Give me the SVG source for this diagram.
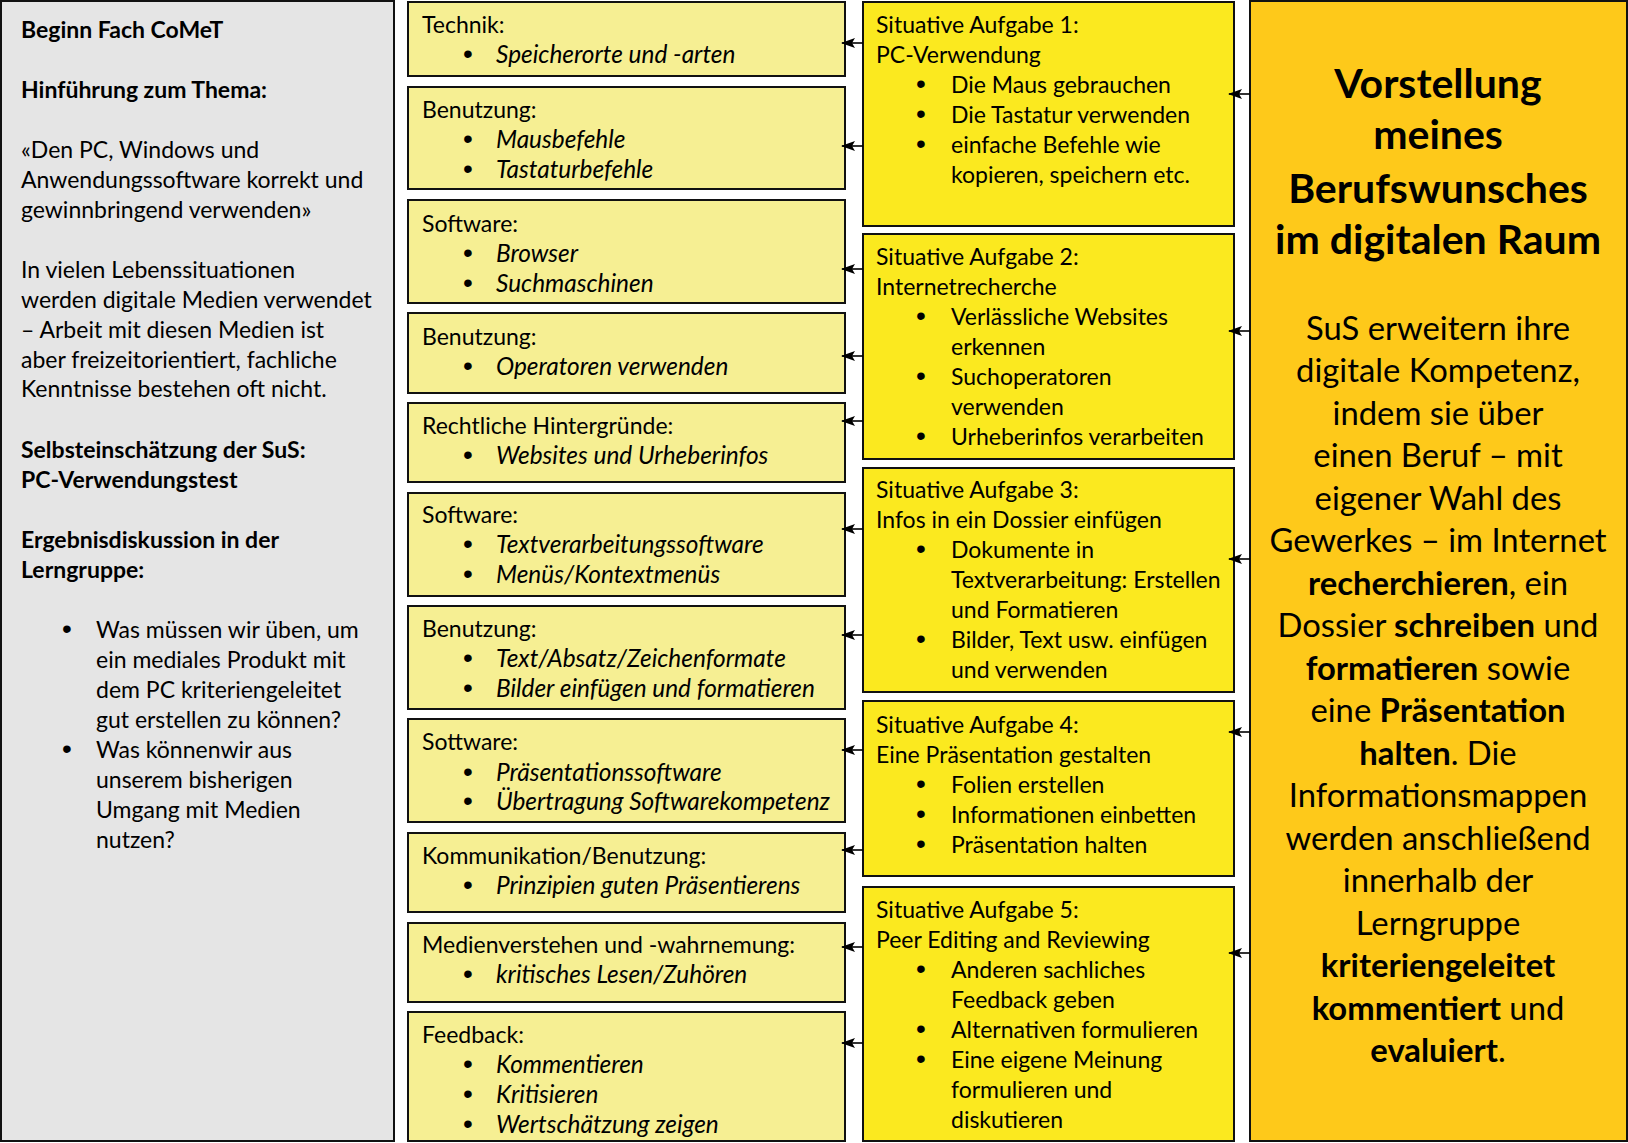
<svg xmlns="http://www.w3.org/2000/svg" width="1628" height="1143" viewBox="0 0 1628 1143">
<defs>
<style>
.t{font-family:Lato,"Liberation Sans",sans-serif;font-size:23px;fill:#000}
.b{font-weight:bold}
.i{font-style:italic;font-size:24.4px}
.bu{font-family:"Liberation Sans",sans-serif;font-size:28px;text-anchor:middle}
.gray{fill:#e5e5e5;stroke:#111;stroke-width:2}
.mid{fill:#f6ef93;stroke:#111;stroke-width:2}
.task{fill:#fbe91f;stroke:#111;stroke-width:2}
.gold{fill:#fec91a;stroke:#111;stroke-width:2}
.h{font-family:Lato,"Liberation Sans",sans-serif;font-size:41px;font-weight:bold;text-anchor:middle}
.o{font-family:Lato,"Liberation Sans",sans-serif;font-size:32.8px;text-anchor:middle}
.c{stroke:#000;stroke-width:1.6;fill:none;marker-end:url(#ah)}
</style>
<marker id="ah" markerUnits="userSpaceOnUse" markerWidth="14" markerHeight="10" viewBox="0 0 14 10" refX="13" refY="5" orient="auto">
<path d="M0,0 L14,5 L0,10 L3,5 z" fill="#000"/>
</marker>
</defs>

<g id="intro">
<rect class="gray" x="1" y="1" width="393" height="1140"/>
<text class="t b" x="21" y="38">Beginn Fach CoMeT</text>
<text class="t b" x="21" y="98">Hinführung zum Thema:</text>
<text class="t" x="21" y="158">«Den PC, Windows und</text>
<text class="t" x="21" y="188">Anwendungssoftware korrekt und</text>
<text class="t" x="21" y="218">gewinnbringend verwenden»</text>
<text class="t" x="21" y="278">In vielen Lebenssituationen</text>
<text class="t" x="21" y="308">werden digitale Medien verwendet</text>
<text class="t" x="21" y="338">– Arbeit mit diesen Medien ist</text>
<text class="t" x="21" y="368">aber freizeitorientiert, fachliche</text>
<text class="t" x="21" y="397">Kenntnisse bestehen oft nicht.</text>
<text class="t b" x="21" y="458">Selbsteinschätzung der SuS:</text>
<text class="t b" x="21" y="488">PC-Verwendungstest</text>
<text class="t b" x="21" y="548">Ergebnisdiskussion in der</text>
<text class="t b" x="21" y="578">Lerngruppe:</text>
<text class="bu" x="67" y="638">•</text>
<text class="t" x="96" y="638">Was müssen wir üben, um</text>
<text class="t" x="96" y="668">ein mediales Produkt mit</text>
<text class="t" x="96" y="698">dem PC kriteriengeleitet</text>
<text class="t" x="96" y="728">gut erstellen zu können?</text>
<text class="bu" x="67" y="758">•</text>
<text class="t" x="96" y="758">Was könnenwir aus</text>
<text class="t" x="96" y="788">unserem bisherigen</text>
<text class="t" x="96" y="818">Umgang mit Medien</text>
<text class="t" x="96" y="848">nutzen?</text>
</g>

<g id="m1">
<rect class="mid" x="408" y="2" width="437" height="74"/>
<text class="t" x="422" y="33">Technik:</text>
<text class="bu" x="468" y="63">•</text><text class="t i" x="496" y="63">Speicherorte und -arten</text>
</g>
<g id="m2">
<rect class="mid" x="408" y="87" width="437" height="102"/>
<text class="t" x="422" y="118">Benutzung:</text>
<text class="bu" x="468" y="148">•</text><text class="t i" x="496" y="148">Mausbefehle</text>
<text class="bu" x="468" y="178">•</text><text class="t i" x="496" y="178">Tastaturbefehle</text>
</g>
<g id="m3">
<rect class="mid" x="408" y="200" width="437" height="103"/>
<text class="t" x="422" y="232">Software:</text>
<text class="bu" x="468" y="262">•</text><text class="t i" x="496" y="262">Browser</text>
<text class="bu" x="468" y="292">•</text><text class="t i" x="496" y="292">Suchmaschinen</text>
</g>
<g id="m4">
<rect class="mid" x="408" y="313" width="437" height="80"/>
<text class="t" x="422" y="345">Benutzung:</text>
<text class="bu" x="468" y="375">•</text><text class="t i" x="496" y="375">Operatoren verwenden</text>
</g>
<g id="m5">
<rect class="mid" x="408" y="403" width="437" height="79"/>
<text class="t" x="422" y="434">Rechtliche Hintergründe:</text>
<text class="bu" x="468" y="464">•</text><text class="t i" x="496" y="464">Websites und Urheberinfos</text>
</g>
<g id="m6">
<rect class="mid" x="408" y="493" width="437" height="103"/>
<text class="t" x="422" y="523">Software:</text>
<text class="bu" x="468" y="553">•</text><text class="t i" x="496" y="553">Textverarbeitungssoftware</text>
<text class="bu" x="468" y="583">•</text><text class="t i" x="496" y="583">Menüs/Kontextmenüs</text>
</g>
<g id="m7">
<rect class="mid" x="408" y="606" width="437" height="103"/>
<text class="t" x="422" y="637">Benutzung:</text>
<text class="bu" x="468" y="667">•</text><text class="t i" x="496" y="667">Text/Absatz/Zeichenformate</text>
<text class="bu" x="468" y="697">•</text><text class="t i" x="496" y="697">Bilder einfügen und formatieren</text>
</g>
<g id="m8">
<rect class="mid" x="408" y="719" width="437" height="103"/>
<text class="t" x="422" y="750">Sottware:</text>
<text class="bu" x="468" y="781">•</text><text class="t i" x="496" y="781">Präsentationssoftware</text>
<text class="bu" x="468" y="810">•</text><text class="t i" x="496" y="810">Übertragung Softwarekompetenz</text>
</g>
<g id="m9">
<rect class="mid" x="408" y="833" width="437" height="79"/>
<text class="t" x="422" y="864">Kommunikation/Benutzung:</text>
<text class="bu" x="468" y="894">•</text><text class="t i" x="496" y="894">Prinzipien guten Präsentierens</text>
</g>
<g id="m10">
<rect class="mid" x="408" y="923" width="437" height="79"/>
<text class="t" x="422" y="953">Medienverstehen und -wahrnemung:</text>
<text class="bu" x="468" y="983">•</text><text class="t i" x="496" y="983">kritisches Lesen/Zuhören</text>
</g>
<g id="m11">
<rect class="mid" x="408" y="1012" width="437" height="129"/>
<text class="t" x="422" y="1043">Feedback:</text>
<text class="bu" x="468" y="1073">•</text><text class="t i" x="496" y="1073">Kommentieren</text>
<text class="bu" x="468" y="1103">•</text><text class="t i" x="496" y="1103">Kritisieren</text>
<text class="bu" x="468" y="1133">•</text><text class="t i" x="496" y="1133">Wertschätzung zeigen</text>
</g>

<g id="a1">
<rect class="task" x="863" y="2" width="371" height="224"/>
<text class="t" x="876" y="33">Situative Aufgabe 1:</text>
<text class="t" x="876" y="63">PC-Verwendung</text>
<text class="bu" x="921" y="93">•</text><text class="t" x="951" y="93">Die Maus gebrauchen</text>
<text class="bu" x="921" y="123">•</text><text class="t" x="951" y="123">Die Tastatur verwenden</text>
<text class="bu" x="921" y="153">•</text><text class="t" x="951" y="153">einfache Befehle wie</text>
<text class="t" x="951" y="183">kopieren, speichern etc.</text>
</g>
<g id="a2">
<rect class="task" x="863" y="234" width="371" height="225"/>
<text class="t" x="876" y="265">Situative Aufgabe 2:</text>
<text class="t" x="876" y="295">Internetrecherche</text>
<text class="bu" x="921" y="325">•</text><text class="t" x="951" y="325">Verlässliche Websites</text>
<text class="t" x="951" y="355">erkennen</text>
<text class="bu" x="921" y="385">•</text><text class="t" x="951" y="385">Suchoperatoren</text>
<text class="t" x="951" y="415">verwenden</text>
<text class="bu" x="921" y="445">•</text><text class="t" x="951" y="445">Urheberinfos verarbeiten</text>
</g>
<g id="a3">
<rect class="task" x="863" y="468" width="371" height="224"/>
<text class="t" x="876" y="498">Situative Aufgabe 3:</text>
<text class="t" x="876" y="528">Infos in ein Dossier einfügen</text>
<text class="bu" x="921" y="558">•</text><text class="t" x="951" y="558">Dokumente in</text>
<text class="t" x="951" y="588">Textverarbeitung: Erstellen</text>
<text class="t" x="951" y="618">und Formatieren</text>
<text class="bu" x="921" y="648">•</text><text class="t" x="951" y="648">Bilder, Text usw. einfügen</text>
<text class="t" x="951" y="678">und verwenden</text>
</g>
<g id="a4">
<rect class="task" x="863" y="701" width="371" height="175"/>
<text class="t" x="876" y="733">Situative Aufgabe 4:</text>
<text class="t" x="876" y="763">Eine Präsentation gestalten</text>
<text class="bu" x="921" y="793">•</text><text class="t" x="951" y="793">Folien erstellen</text>
<text class="bu" x="921" y="823">•</text><text class="t" x="951" y="823">Informationen einbetten</text>
<text class="bu" x="921" y="853">•</text><text class="t" x="951" y="853">Präsentation halten</text>
</g>
<g id="a5">
<rect class="task" x="863" y="887" width="371" height="254"/>
<text class="t" x="876" y="918">Situative Aufgabe 5:</text>
<text class="t" x="876" y="948">Peer Editing and Reviewing</text>
<text class="bu" x="921" y="978">•</text><text class="t" x="951" y="978">Anderen sachliches</text>
<text class="t" x="951" y="1008">Feedback geben</text>
<text class="bu" x="921" y="1038">•</text><text class="t" x="951" y="1038">Alternativen formulieren</text>
<text class="bu" x="921" y="1068">•</text><text class="t" x="951" y="1068">Eine eigene Meinung</text>
<text class="t" x="951" y="1098">formulieren und</text>
<text class="t" x="951" y="1128">diskutieren</text>
</g>

<g id="goal">
<rect class="gold" x="1250" y="1" width="377" height="1140"/>
<text class="h" x="1438" y="98">Vorstellung</text>
<text class="h" x="1438" y="149">meines</text>
<text class="h" x="1438" y="203">Berufswunsches</text>
<text class="h" x="1438" y="254">im digitalen Raum</text>
<text class="o" x="1438" y="339.5">SuS erweitern ihre</text>
<text class="o" x="1438" y="382">digitale Kompetenz,</text>
<text class="o" x="1438" y="424.5">indem sie über</text>
<text class="o" x="1438" y="467">einen Beruf – mit</text>
<text class="o" x="1438" y="509.5">eigener Wahl des</text>
<text class="o" x="1438" y="552">Gewerkes – im Internet</text>
<text class="o" x="1438" y="594.5"><tspan class="b">recherchieren</tspan>, ein</text>
<text class="o" x="1438" y="637">Dossier <tspan class="b">schreiben</tspan> und</text>
<text class="o" x="1438" y="679.5"><tspan class="b">formatieren</tspan> sowie</text>
<text class="o" x="1438" y="722">eine <tspan class="b">Präsentation</tspan></text>
<text class="o" x="1438" y="764.5"><tspan class="b">halten</tspan>. Die</text>
<text class="o" x="1438" y="807">Informationsmappen</text>
<text class="o" x="1438" y="849.5">werden anschließend</text>
<text class="o" x="1438" y="892">innerhalb der</text>
<text class="o" x="1438" y="934.5">Lerngruppe</text>
<text class="o b" x="1438" y="977">kriteriengeleitet</text>
<text class="o" x="1438" y="1019.5"><tspan class="b">kommentiert</tspan> und</text>
<text class="o" x="1438" y="1062"><tspan class="b">evaluiert</tspan>.</text>
</g>

<g id="connectors">
<line class="c" x1="863" y1="43" x2="842" y2="43"/>
<line class="c" x1="863" y1="146" x2="842" y2="146"/>
<line class="c" x1="863" y1="269" x2="842" y2="269"/>
<line class="c" x1="863" y1="356" x2="842" y2="356"/>
<line class="c" x1="863" y1="421" x2="842" y2="421"/>
<line class="c" x1="863" y1="529" x2="842" y2="529"/>
<line class="c" x1="863" y1="635" x2="842" y2="635"/>
<line class="c" x1="863" y1="750" x2="842" y2="750"/>
<line class="c" x1="863" y1="850" x2="842" y2="850"/>
<line class="c" x1="863" y1="947" x2="842" y2="947"/>
<line class="c" x1="863" y1="1043" x2="842" y2="1043"/>
<line class="c" x1="1250" y1="94" x2="1229" y2="94"/>
<line class="c" x1="1250" y1="331" x2="1229" y2="331"/>
<line class="c" x1="1250" y1="559" x2="1229" y2="559"/>
<line class="c" x1="1250" y1="732" x2="1229" y2="732"/>
<line class="c" x1="1250" y1="953" x2="1229" y2="953"/>
</g>
</svg>
